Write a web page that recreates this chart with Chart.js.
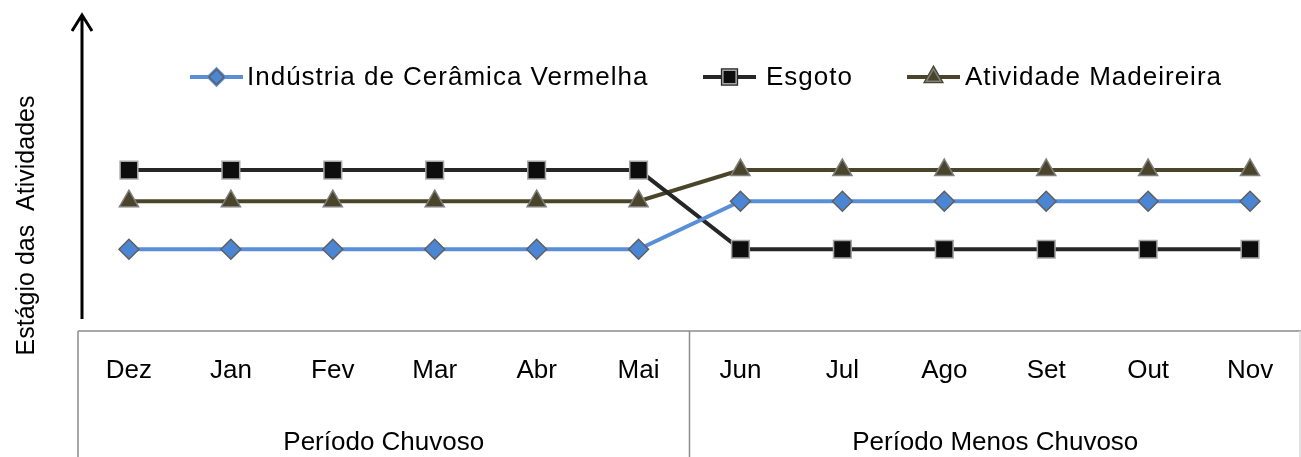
<!DOCTYPE html>
<html>
<head>
<meta charset="utf-8">
<title>Estágio das Atividades</title>
<script src="https://cdn.jsdelivr.net/npm/chart.js@4.4.1/dist/chart.umd.min.js"></script>
<style>
  html, body { margin: 0; padding: 0; background: #ffffff; }
  #wrap { width: 1301px; height: 457px; }
</style>
</head>
<body>
<div id="wrap"><canvas id="myChart" width="1301" height="457"></canvas></div>
<script>
'use strict';

//data
let months = ['Dez', 'Jan', 'Fev', 'Mar', 'Abr', 'Mai', 'Jun', 'Jul', 'Ago', 'Set', 'Out', 'Nov'];
let periods = ['Período Chuvoso', 'Período Menos Chuvoso'];
let ceramica = [1.55, 1.55, 1.55, 1.55, 1.55, 1.55, 2.46, 2.46, 2.46, 2.46, 2.46, 2.46];
let esgoto = [3.05, 3.05, 3.05, 3.05, 3.05, 3.05, 1.55, 1.55, 1.55, 1.55, 1.55, 1.55];
let madeireira = [2.46, 2.46, 2.46, 2.46, 2.46, 2.46, 3.05, 3.05, 3.05, 3.05, 3.05, 3.05];
let yTitle = 'Estágio das  Atividades';

const FONT = 'Liberation Sans, Arial, sans-serif';

//legend positions (line start, text start)
let legendX = [190, 703, 907];
let legendTextX = [247, 766, 965];

//x axes: fixed heights, no side padding
function fitAxis(height) {
  return function(scale) {
    scale.height = height;
    scale.paddingLeft = 0;
    scale.paddingRight = 0;
  };
}

let extras = {
  id: 'extras',
  beforeDraw(chart) {
    chart.ctx.letterSpacing = '0px';
  },
  beforeDatasetsDraw(chart) {
    //x labels and legend are drawn a bit wider, like the original
    chart.ctx.letterSpacing = '1px';
  },
  afterDraw(chart) {
    let ctx = chart.ctx;
    let area = chart.chartArea;
    let x = chart.scales.x;
    ctx.save();

    //table lines under the plot
    ctx.strokeStyle = '#8c8c8c';
    ctx.lineWidth = 1.5;
    let mid = (x.getPixelForTick(5) + x.getPixelForTick(6)) / 2;
    ctx.beginPath();
    ctx.moveTo(area.left, area.bottom);
    ctx.lineTo(area.right, area.bottom);
    ctx.moveTo(area.left, area.bottom);
    ctx.lineTo(area.left, chart.height);
    ctx.moveTo(mid, area.bottom);
    ctx.lineTo(mid, chart.height);
    ctx.stroke();
    ctx.strokeStyle = '#d9d9d9';
    ctx.beginPath();
    ctx.moveTo(area.right - 1, area.bottom);
    ctx.lineTo(area.right - 1, chart.height);
    ctx.stroke();

    //vertical arrow
    let ax = area.left + 4;
    ctx.strokeStyle = '#000000';
    ctx.lineWidth = 3;
    ctx.beginPath();
    ctx.moveTo(ax, area.bottom - 12);
    ctx.lineTo(ax, 15);
    ctx.moveTo(ax - 10, 31);
    ctx.lineTo(ax, 15);
    ctx.lineTo(ax + 10, 31);
    ctx.stroke();

    //legend
    ctx.font = '26px ' + FONT;
    ctx.textBaseline = 'middle';
    chart.data.datasets.forEach(function(ds, i) {
      let lx = legendX[i];
      let ly = 77;
      ctx.strokeStyle = ds.borderColor;
      ctx.lineWidth = 4;
      ctx.beginPath();
      ctx.moveTo(lx, ly);
      ctx.lineTo(lx + 53, ly);
      ctx.stroke();
      Chart.helpers.drawPoint(ctx, {
        pointStyle: ds.pointStyle,
        radius: ds.pointRadius * 0.75,
        borderWidth: ds.pointBorderWidth,
        rotation: 0
      }, lx + 26.5, ly);
      ctx.fillStyle = ds.pointBackgroundColor;
      ctx.strokeStyle = ds.pointBorderColor;
      ctx.lineWidth = ds.pointBorderWidth;
      ctx.fill();
      ctx.stroke();
      ctx.fillStyle = '#000000';
      ctx.fillText(ds.label, legendTextX[i], ly + 1);
    });
    ctx.restore();
  }
};

const ctx = document.getElementById('myChart');
new Chart(ctx, {
  type: 'line',
  data: {
    labels: months,
    datasets: [{
      label: 'Indústria de Cerâmica Vermelha',
      data: ceramica,
      borderColor: '#5a8fd8',
      borderWidth: 4,
      pointStyle: 'rectRot',
      pointRadius: 10,
      pointBackgroundColor: '#4a86d4',
      pointBorderColor: '#5f5f5f',
      pointBorderWidth: 1.5
    },
    {
      label: 'Esgoto',
      data: esgoto,
      borderColor: '#262626',
      borderWidth: 4,
      pointStyle: 'rect',
      pointRadius: 12.5,
      pointBackgroundColor: '#0d0d0d',
      pointBorderColor: '#a6a6a6',
      pointBorderWidth: 1.5
    },
    {
      label: 'Atividade Madeireira',
      data: madeireira,
      borderColor: '#4a452a',
      borderWidth: 4,
      pointStyle: 'triangle',
      pointRadius: 11,
      pointBackgroundColor: '#4a452a',
      pointBorderColor: '#7f7f7f',
      pointBorderWidth: 1.5
    }]
  },
  options: {
    responsive: false,
    animation: false,
    layout: { autoPadding: false, padding: { top: 120, left: 0, right: 0, bottom: 0 } },
    plugins: {
      legend: { display: false },
      tooltip: { enabled: false }
    },
    scales: {
      x: {
        offset: true,
        z: 1,
        grid: { display: false, drawTicks: false },
        border: { display: false },
        ticks: { color: '#000000', font: { size: 26, family: FONT }, padding: 24, maxRotation: 0, autoSkip: false },
        afterFit: fitAxis(60)
      },
      x2: {
        type: 'category',
        labels: periods,
        position: 'bottom',
        offset: true,
        z: 1,
        grid: { display: false, drawTicks: false },
        border: { display: false },
        ticks: { color: '#000000', font: { size: 26, family: FONT }, padding: 36, maxRotation: 0 },
        afterFit: fitAxis(66)
      },
      y: {
        min: 0,
        max: 4,
        z: -1,
        grid: { display: false, drawTicks: false },
        border: { display: false },
        ticks: { display: false },
        title: {
          display: true,
          text: yTitle,
          color: '#000000',
          font: { size: 25, family: FONT },
          padding: { top: 12, bottom: 36 }
        }
      }
    }
  },
  plugins: [extras]
});
</script>
</body>
</html>
